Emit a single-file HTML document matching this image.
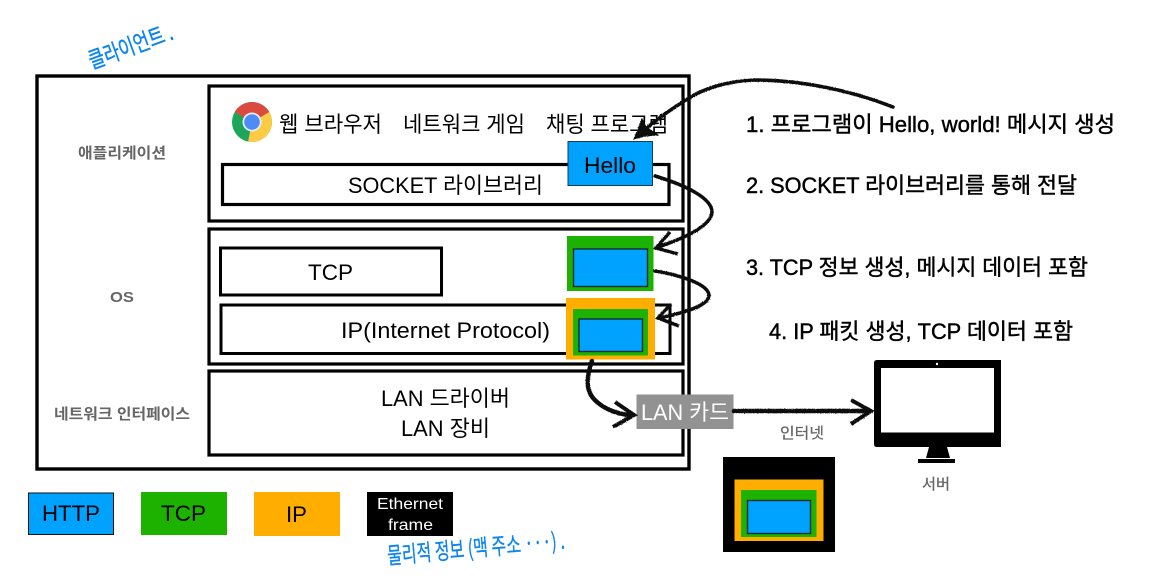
<!DOCTYPE html>
<html><head><meta charset="utf-8">
<style>
html,body{margin:0;padding:0;background:#fff}
svg{display:block}
text{font-family:"Liberation Sans","Noto Sans CJK KR",sans-serif;fill:#000}
.g{fill:#666;font-weight:700;font-size:15px}
.t{font-size:22px}
.b{font-size:22px;stroke:#000;stroke-width:.45px}
.h{fill:#0a84f0;font-family:"WenQuanYi Zen Hei","Noto Sans CJK KR",sans-serif}
.a{fill:none;stroke:#111;stroke-width:3.6;stroke-linecap:round}
.c{fill:none;stroke:#111;stroke-width:3.4;stroke-linejoin:miter}
.r{fill:none;stroke:#000}
</style></head><body>
<svg width="1166" height="582" viewBox="0 0 1166 582" xmlns="http://www.w3.org/2000/svg">
<defs>
<filter id="rough" x="-5%" y="-5%" width="110%" height="110%">
<feTurbulence type="fractalNoise" baseFrequency="0.9" numOctaves="2" seed="3"/>
<feDisplacementMap in="SourceGraphic" scale="1.500"/>
</filter>
</defs>
<rect width="1166" height="582" fill="#fff"/>

<!-- main frames -->
<rect class="r" x="37" y="76" width="652" height="393" stroke-width="3.4"/>
<rect class="r" x="209" y="86" width="474" height="135" stroke-width="3.2"/>
<rect class="r" x="209" y="229" width="474" height="135" stroke-width="3.2"/>
<rect class="r" x="209" y="371" width="474" height="84" stroke-width="3.2"/>
<rect class="r" x="222.500" y="164.500" width="446.500" height="40" stroke-width="3.2"/>
<rect class="r" x="220.500" y="248" width="221" height="47" stroke-width="3"/>
<rect class="r" x="221" y="305" width="449" height="48.500" stroke-width="3"/>

<!-- chrome icon -->
<circle cx="252" cy="122" r="20" fill="#1da55b"/>
<path d="M252 122 L234.700 112 A20 20 0 0 1 269.300 112 Z" fill="#db4a3f"/>
<path d="M252 122 L269.300 112 A20 20 0 0 1 252 142 L248 142 Z" fill="#fdcb44"/>
<circle cx="252" cy="122" r="9.500" fill="#e9eef8"/>
<circle cx="252" cy="122" r="7.800" fill="#4e8cf5"/>

<!-- left labels -->
<text class="g" x="78" y="158" textLength="88" lengthAdjust="spacingAndGlyphs">애플리케이션</text>
<text class="g" x="110" y="302" textLength="24" lengthAdjust="spacingAndGlyphs">OS</text>
<text class="g" x="54" y="419" textLength="136" lengthAdjust="spacingAndGlyphs">네트워크 인터페이스</text>

<!-- app text -->
<text class="t" x="279" y="132" textLength="103" lengthAdjust="spacingAndGlyphs">웹 브라우저</text>
<text class="t" x="403" y="132" textLength="122" lengthAdjust="spacingAndGlyphs">네트워크 게임</text>
<text class="t" x="546" y="132" textLength="122" lengthAdjust="spacingAndGlyphs">채팅 프로그램</text>
<text class="t" x="348" y="193" textLength="195" lengthAdjust="spacingAndGlyphs">SOCKET 라이브러리</text>
<text class="t" x="308" y="280" textLength="45" lengthAdjust="spacingAndGlyphs">TCP</text>
<text class="t" x="341" y="338" textLength="209" lengthAdjust="spacingAndGlyphs">IP(Internet Protocol)</text>
<text class="t" x="381" y="406" textLength="129" lengthAdjust="spacingAndGlyphs">LAN 드라이버</text>
<text class="t" x="401" y="436" textLength="89" lengthAdjust="spacingAndGlyphs">LAN 장비</text>

<!-- hello -->
<rect x="568" y="141.500" width="84.500" height="44" fill="#00a2ff" stroke="#1c3a50" stroke-width="1"/>
<text class="t" x="584" y="173" textLength="52" lengthAdjust="spacingAndGlyphs">Hello</text>

<!-- tcp packet -->
<rect x="567" y="236" width="86.500" height="55" fill="#1db100"/>
<rect x="573.500" y="249" width="74" height="37.500" fill="#00a2ff" stroke="#0d2a3a" stroke-width="1.400"/>

<!-- ip packet -->
<rect x="566" y="298" width="89" height="61.500" fill="#ffae00"/>
<rect x="573" y="309" width="75" height="46.500" fill="#1db100"/>
<rect x="579" y="319" width="63.500" height="32.500" fill="#00a2ff" stroke="#0d2a3a" stroke-width="1.400"/>

<!-- lan card -->
<rect x="636.500" y="394.500" width="97" height="34.500" fill="#929292"/>
<text class="t" x="641" y="420" style="fill:#fff" textLength="88" lengthAdjust="spacingAndGlyphs">LAN 카드</text>

<!-- steps -->
<text class="b" x="746" y="132" textLength="369" lengthAdjust="spacingAndGlyphs">1. 프로그램이 Hello, world! 메시지 생성</text>
<text class="b" x="746" y="193" textLength="331" lengthAdjust="spacingAndGlyphs">2. SOCKET 라이브러리를 통해 전달</text>
<text class="b" x="746" y="275" textLength="342" lengthAdjust="spacingAndGlyphs">3. TCP 정보 생성, 메시지 데이터 포함</text>
<text class="b" x="769" y="339" textLength="304" lengthAdjust="spacingAndGlyphs">4. IP 패킷 생성, TCP 데이터 포함</text>

<!-- arrows -->
<g filter="url(#rough)">
<path class="a" d="M893 107 C850 90 800 80 755 80 C725 81 700 90 686 100 C670 110 655 120 638 136"/>
<path d="M634 139 L642 119 L646 127 L658 135 L645 136 Z" fill="#111" stroke="#111" stroke-width="1"/>
<path class="a" d="M655 176 C685 185 712 198 712 212 C711 226 685 238 658 247"/>
<path class="c" d="M670 232 L656 248 L678 254"/>
<path class="a" d="M655 271 C680 275 708 284 709 295 C709 305 688 312 659 318"/>
<path class="c" d="M671 304 L658 318 L679 326"/>
<path class="a" d="M592 361 C586 378 585 392 597 402 C606 410 620 415 633 415" style="stroke-width:4.500"/>
<path class="c" d="M615 402 L634 415 L613 427" style="stroke-width:4"/>
<path class="a" d="M734 411 L868 411" style="stroke-width:4.500"/>
<path class="c" d="M851 400 L871 411 L851 424" style="stroke-width:4"/>
</g>

<!-- monitor -->
<path d="M877 360 H1001 V447 H877 Q874 447 874 444 V363 Q874 360 877 360 Z" fill="#000"/>
<rect x="881" y="368" width="113" height="64.500" fill="#fff"/>
<circle cx="937" cy="364" r="1.200" fill="#fff"/>
<path d="M929 447 H947 L950 458 H926 Z" fill="#000"/>
<rect x="918" y="459" width="37" height="4" fill="#000"/>
<text class="g" x="780" y="438" style="font-size:15px;font-weight:400;stroke:#666;stroke-width:.25px" textLength="44" lengthAdjust="spacingAndGlyphs">인터넷</text>
<text class="g" x="922" y="489" style="font-size:15px;font-weight:400;stroke:#666;stroke-width:.25px" textLength="28" lengthAdjust="spacingAndGlyphs">서버</text>

<!-- ethernet frame -->
<rect x="723" y="457" width="112" height="95" fill="#000"/>
<rect x="734.500" y="479.500" width="89" height="61.500" fill="#ffae00"/>
<rect x="741" y="490" width="75.500" height="47" fill="#1db100"/>
<rect x="747.500" y="500.500" width="63" height="33" fill="#00a2ff" stroke="#0d2a3a" stroke-width="1.400"/>

<!-- legend -->
<rect x="28.500" y="493" width="85" height="41.500" fill="#00a2ff" stroke="#111" stroke-width="1"/>
<text class="t" x="42" y="521" textLength="58" lengthAdjust="spacingAndGlyphs">HTTP</text>
<rect x="141" y="492" width="86" height="43" fill="#1db100"/>
<text class="t" x="161" y="521" textLength="45" lengthAdjust="spacingAndGlyphs">TCP</text>
<rect x="254" y="492" width="86" height="44" fill="#ffae00"/>
<text class="t" x="286" y="522" textLength="21" lengthAdjust="spacingAndGlyphs">IP</text>
<rect x="367" y="492" width="86" height="44" fill="#000"/>
<text x="377" y="509" style="fill:#fff;font-size:16px" textLength="66" lengthAdjust="spacingAndGlyphs">Ethernet</text>
<text x="388" y="530" style="fill:#fff;font-size:16px" textLength="45" lengthAdjust="spacingAndGlyphs">frame</text>

<!-- handwriting -->
<text class="h" transform="translate(92 69) rotate(-20)" style="font-size:23px;stroke:#0a84f0;stroke-width:.4px" textLength="88" lengthAdjust="spacingAndGlyphs">클라이언트 .</text>
<text class="h" transform="translate(388 564) rotate(-5)" style="font-size:23px;stroke:#0a84f0;stroke-width:.3px" textLength="178" lengthAdjust="spacingAndGlyphs">물리적 정보 (맥 주소 ···) .</text>
</svg>
</body></html>
